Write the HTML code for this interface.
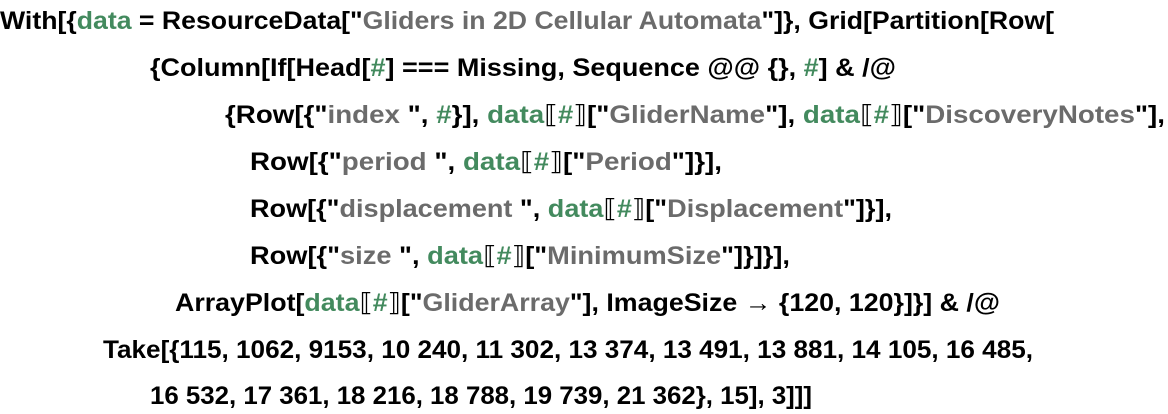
<!DOCTYPE html>
<html><head><meta charset="utf-8"><style>
html,body{margin:0;padding:0;background:#fff;width:1168px;height:414px;overflow:hidden}
svg{display:block}
text{font-family:"Liberation Sans","DejaVu Sans","Noto Sans CJK SC",sans-serif;font-weight:bold;font-size:25px;fill:#000}
.g{fill:#438a5e}.s{fill:#6b6b6b}
.b{font-family:"DejaVu Sans",sans-serif;font-weight:normal}
</style></head><body>
<svg width="1168" height="414" xmlns="http://www.w3.org/2000/svg" xml:space="preserve">
<text x="0" y="29" textLength="1054" lengthAdjust="spacingAndGlyphs">With[{<tspan class="g">data</tspan> = ResourceData["<tspan class="s">Gliders in 2D Cellular Automata</tspan>"]}, Grid[Partition[Row[</text>
<text x="150" y="76" textLength="746" lengthAdjust="spacingAndGlyphs">{Column[If[Head[<tspan class="g">#</tspan>] === Missing, Sequence @@ {},  <tspan class="g">#</tspan>] &amp; /@</text>
<text x="225" y="123" textLength="940" lengthAdjust="spacingAndGlyphs">{Row[{"<tspan class="s">index </tspan>", <tspan class="g">#</tspan>}],  <tspan class="g">data</tspan><tspan class="b">⟦</tspan><tspan class="g">#</tspan><tspan class="b">⟧</tspan>["<tspan class="s">GliderName</tspan>"], <tspan class="g">data</tspan><tspan class="b">⟦</tspan><tspan class="g">#</tspan><tspan class="b">⟧</tspan>["<tspan class="s">DiscoveryNotes</tspan>"],</text>
<text x="250" y="170" textLength="472" lengthAdjust="spacingAndGlyphs">Row[{"<tspan class="s">period </tspan>",  <tspan class="g">data</tspan><tspan class="b">⟦</tspan><tspan class="g">#</tspan><tspan class="b">⟧</tspan>["<tspan class="s">Period</tspan>"]}],</text>
<text x="250" y="217" textLength="642" lengthAdjust="spacingAndGlyphs">Row[{"<tspan class="s">displacement </tspan>", <tspan class="g">data</tspan><tspan class="b">⟦</tspan><tspan class="g">#</tspan><tspan class="b">⟧</tspan>["<tspan class="s">Displacement</tspan>"]}],</text>
<text x="250" y="264" textLength="540" lengthAdjust="spacingAndGlyphs">Row[{"<tspan class="s">size </tspan>", <tspan class="g">data</tspan><tspan class="b">⟦</tspan><tspan class="g">#</tspan><tspan class="b">⟧</tspan>["<tspan class="s">MinimumSize</tspan>"]}]}],</text>
<text x="175" y="311" textLength="825" lengthAdjust="spacingAndGlyphs">ArrayPlot[<tspan class="g">data</tspan><tspan class="b">⟦</tspan><tspan class="g">#</tspan><tspan class="b">⟧</tspan>["<tspan class="s">GliderArray</tspan>"], ImageSize → {120, 120}]}] &amp; /@</text>
<text x="103" y="358" textLength="930" lengthAdjust="spacingAndGlyphs">Take[{115, 1062, 9153, 10 240, 11 302, 13 374, 13 491, 13 881, 14 105, 16 485,</text>
<text x="150" y="404" textLength="662" lengthAdjust="spacingAndGlyphs">16 532, 17 361, 18 216, 18 788, 19 739, 21 362}, 15], 3]]]</text>
</svg>
</body></html>
